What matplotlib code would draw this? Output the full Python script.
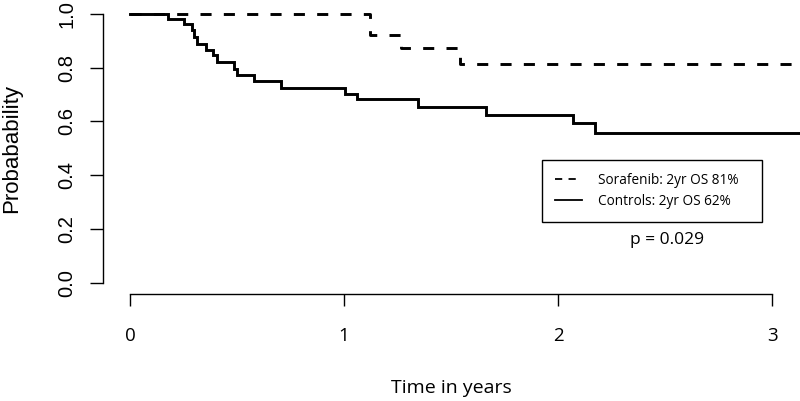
import matplotlib
matplotlib.use('Agg')
import matplotlib.pyplot as plt
from matplotlib.lines import Line2D

# Kaplan-Meier step values
sora_t = [0, 1.12, 1.266, 1.542]
sora_s = [1.0, 0.92, 0.872, 0.815]

ctrl_t = [0, 0.176, 0.25, 0.288, 0.30, 0.311, 0.355, 0.389, 0.407, 0.483,
          0.50, 0.58, 0.704, 1.005, 1.06, 1.346, 1.664, 2.07, 2.17]
ctrl_s = [1.0, 0.98, 0.96, 0.94, 0.915, 0.888, 0.866, 0.848, 0.82, 0.796,
          0.771, 0.751, 0.724, 0.703, 0.683, 0.653, 0.623, 0.594, 0.556]

t_end = 3.3
x_ticks = [0, 1, 2, 3]
y_ticks = [0.0, 0.2, 0.4, 0.6, 0.8, 1.0]
legend_labels = ['Sorafenib: 2yr OS 81%', 'Controls: 2yr OS 62%']
p_text = 'p = 0.029'

sans = ['Open Sans', 'DejaVu Sans']
arial = ['Liberation Sans', 'DejaVu Sans']

fig = plt.figure(figsize=(8.0, 4.01), dpi=100)
ax = fig.add_axes([0.129, 0.267, 0.871, 0.7257])

ax.step(sora_t + [t_end], sora_s + [sora_s[-1]], where='post', color='black',
        lw=2.1, linestyle=(0, (3.8, 4.2)), dash_capstyle='butt')
ax.step(ctrl_t + [t_end], ctrl_s + [ctrl_s[-1]], where='post', color='black',
        lw=2.1, solid_joinstyle='miter')

ax.set_xlim(-0.126, 3.13)
ax.set_ylim(-0.04, 1.04)

for s in ['top', 'right']:
    ax.spines[s].set_visible(False)
ax.spines['left'].set_bounds(0, 1)
ax.spines['bottom'].set_bounds(0, 3)
for s in ['left', 'bottom']:
    ax.spines[s].set_linewidth(1.0)

ax.set_xticks(x_ticks)
ax.set_xticklabels([str(v) for v in x_ticks], family=sans, fontsize=13.5)
ax.set_yticks(y_ticks)
ax.set_yticklabels([f'{v:.1f}' for v in y_ticks], family=arial, fontsize=14.5,
                   rotation=90, va='center')
ax.tick_params(axis='x', direction='out', length=8.6, width=1.0, pad=15.5)
ax.tick_params(axis='y', direction='out', length=9.4, width=1.0, pad=10)

ax.set_xlabel('Time in years', family=sans, fontsize=14, labelpad=24)
ax.set_ylabel('Probabability', family=arial, fontsize=16)
ax.yaxis.set_label_coords(-0.117, 0.5)

handles = [Line2D([], [], color='black', lw=1.3, linestyle=(0, (4, 3.5))),
           Line2D([], [], color='black', lw=1.3)]
leg = fig.legend(handles, legend_labels, loc='upper left',
                 bbox_to_anchor=(0.677, 0.456, 0.2755, 0.145), mode='expand',
                 prop={'family': sans, 'size': 9.8}, frameon=True,
                 fancybox=False, framealpha=1, edgecolor='black',
                 borderpad=0.95, labelspacing=0.45, handlelength=2.0,
                 handletextpad=1.2, borderaxespad=0)
leg.get_frame().set_linewidth(1.0)

ax.text(2.51, 0.16, p_text, family=sans, fontsize=12.5, ha='center', va='center')

fig.savefig('out.png', dpi=100, facecolor='white')
